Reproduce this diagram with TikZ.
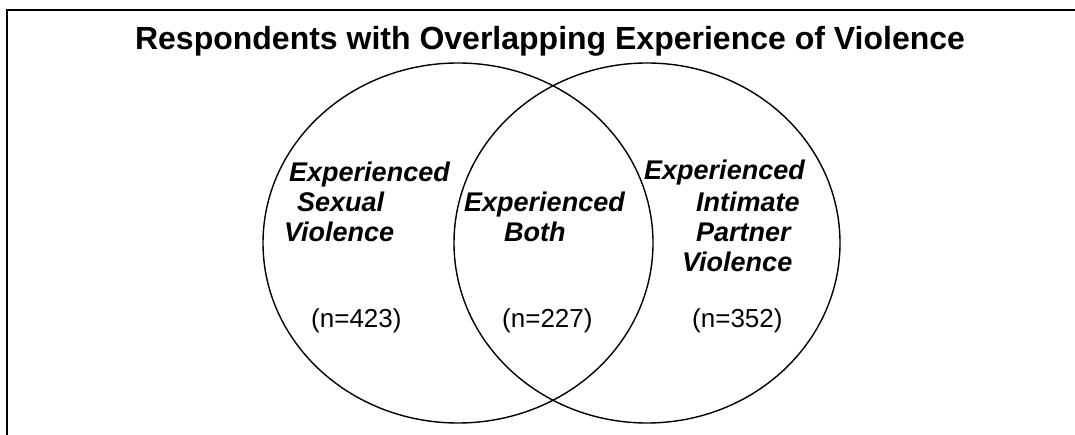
\documentclass[tikz,border=0pt]{standalone}
\usepackage{fontspec}
\setmainfont{Liberation Sans}
\begin{document}
\begin{tikzpicture}[x=1pt,y=-1pt,
  frameline/.style={line width=2pt},
  setline/.style={line width=1.4pt},
  title/.style={font=\fontsize{32}{36}\selectfont\bfseries, inner sep=0pt, anchor=base},
  lbl/.style={font=\fontsize{27}{30}\selectfont\bfseries\itshape, inner sep=0pt, anchor=base west},
  cnt/.style={font=\fontsize{26}{30}\selectfont, inner sep=0pt, anchor=base west}]
\useasboundingbox (0,0) rectangle (1075,435);
% frame (only the top and left edges fall inside the page)
\draw[frameline] (7,440) -- (7,10) -- (1080,10);
% title
\node[title] (t) at (550,50) {Respondents with Overlapping Experience of Violence};
% the two sets
\draw[setline] (458,243) ellipse [x radius=195, y radius=180];
\draw[setline] (647,243) ellipse [x radius=193, y radius=180];
% left set
\node[lbl] (l1) at (289,182) {Experienced};
\node[lbl] (l2) at (297,212) {Sexual};
\node[lbl] (l3) at (284,242) {Violence};
\node[cnt] (ln) at (311,327) {(n=423)};
% overlap
\node[lbl] (m1) at (464,212) {Experienced};
\node[lbl] (m2) at (504,242) {Both};
\node[cnt] (mn) at (502,327) {(n=227)};
% right set
\node[lbl] (r1) at (644,180) {Experienced};
\node[lbl] (r2) at (696,212) {Intimate};
\node[lbl] (r3) at (696,242) {Partner};
\node[lbl] (r4) at (682,272) {Violence};
\node[cnt] (rn) at (692,327) {(n=352)};
\end{tikzpicture}
\end{document}
